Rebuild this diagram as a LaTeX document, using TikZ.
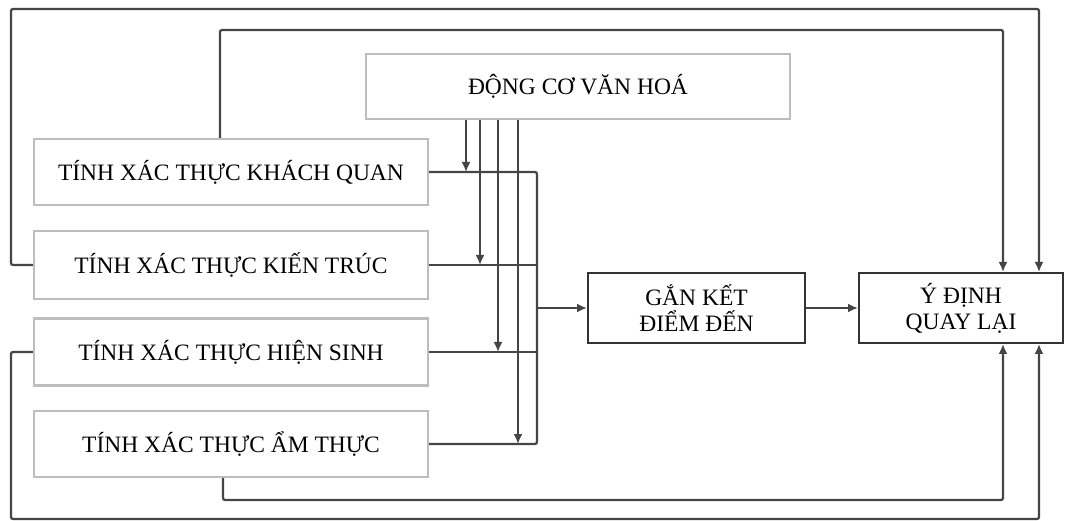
\documentclass[tikz,border=0pt]{standalone}
\usepackage{fontspec}
\setmainfont{Liberation Serif}
\usetikzlibrary{arrows.meta}
\definecolor{lbox}{HTML}{BDBDBD}
\definecolor{dbox}{HTML}{333333}
\definecolor{wire}{HTML}{454545}
\begin{document}
\begin{tikzpicture}[x=1pt,y=-1pt,
  every node/.style={font=\fontsize{23.5}{26}\selectfont, text=black, inner sep=0pt, align=center},
  lightbox/.style={draw=lbox, line width=2.4pt, fill=white, minimum width=394pt},
  darkbox/.style={draw=dbox, line width=2pt, fill=white, minimum height=70pt},
  wireline/.style={draw=wire, line width=2.2pt},
  arr/.style={wireline, -{Latex[length=10pt,width=9pt]}},
  loopline/.style={wireline, rounded corners=2pt, -{Latex[length=10pt,width=9pt]}}
]
\useasboundingbox[fill=white] (0,0) rectangle (1074,521);

% boxes
\node[lightbox, minimum width=424pt, minimum height=65pt] (dc) at (578,86.5) {ĐỘNG CƠ VĂN HOÁ};
\node[lightbox, minimum height=66pt] (b1) at (231,172) {TÍNH XÁC THỰC KHÁCH QUAN};
\node[lightbox, minimum height=68pt] (b2) at (231,265) {TÍNH XÁC THỰC KIẾN TRÚC};
\node[lightbox, minimum height=67pt] (b3) at (231,352) {TÍNH XÁC THỰC HIỆN SINH};
\node[lightbox, minimum height=66pt] (b4) at (231,444) {TÍNH XÁC THỰC ẨM THỰC};
\node[darkbox, minimum width=217pt] (g) at (696.5,308) {GẮN KẾT\\ĐIỂM ĐẾN};
\node[darkbox, minimum width=204pt] (yd) at (961,308) {Ý ĐỊNH\\QUAY LẠI};

% bus and arrow targets
\coordinate (bus) at (537,0);
\coordinate (t1) at (466,0);
\coordinate (t2) at (480,0);
\coordinate (t3) at (498,0);
\coordinate (t4) at (518,0);

% loop corners
\coordinate (oTL) at (11,9);
\coordinate (oTR) at (1039,9);
\coordinate (iTL) at (220,30);
\coordinate (iTR) at (1003,30);
\coordinate (oBL) at (11,519);
\coordinate (oBR) at (1039,519);
\coordinate (iBL) at (223,500);
\coordinate (iBR) at (1003,500);

% lines from left boxes to bus
\draw[wireline, rounded corners=2pt] (b1.east) -- (b1.east -| bus) -- (b4.east -| bus) -- (b4.east);
\draw[wireline] (b2.east) -- (b2.east -| bus);
\draw[wireline] (b3.east) -- (b3.east -| bus);
\draw[arr] (g.west -| bus) -- (g.west);
\draw[arr] (g.east) -- (yd.west);

% arrows from culture motivation
\draw[arr] (dc.south -| t1) -- (b1.east -| t1);
\draw[arr] (dc.south -| t2) -- (b2.east -| t2);
\draw[arr] (dc.south -| t3) -- (b3.east -| t3);
\draw[arr] (dc.south -| t4) -- (b4.east -| t4);

% feedback loops
\draw[loopline] (b2.west) -| (oTL) -- (oTR) -- (oTR |- yd.north);
\draw[loopline] (b1.north -| iTL) -- (iTL) -- (iTR) -- (iTR |- yd.north);
\draw[loopline] (b3.west) -| (oBL) -- (oBR) -- (oBR |- yd.south);
\draw[loopline] (b4.south -| iBL) -- (iBL) -- (iBR) -- (iBR |- yd.south);
\end{tikzpicture}
\end{document}
